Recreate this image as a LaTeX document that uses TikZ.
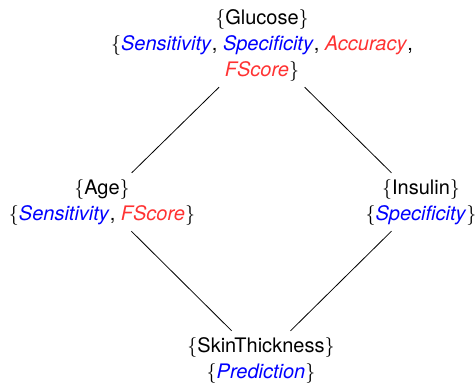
\RequirePackage{fix-cm}
\documentclass[tikz,border=0pt]{standalone}
\usepackage{fontspec}
\setmainfont{TeX Gyre Heros}
\usepackage{xcolor}
\definecolor{metblue}{RGB}{0,0,255}
\definecolor{metred}{RGB}{255,50,50}
\tikzset{
  % attribute sets with the metrics they win
  attr/.style={font=\fontsize{20}{26}\selectfont, align=center, inner sep=6pt},
  % cover relation
  link/.style={draw=black, line width=0.8pt},
}
\newcommand{\mblue}[1]{\textcolor{metblue}{\textit{#1}}}
\newcommand{\mred}[1]{\textcolor{metred}{\textit{#1}}}

\begin{document}
\begin{tikzpicture}[x=1pt,y=1pt]
\useasboundingbox (0,0) rectangle (476,384);

\node[attr] (glu) at (262,339)
  {$\{$Glucose$\}$\\ $\{$\mblue{Sensitivity}, \mblue{Specificity}, \mred{Accuracy},\\ \mred{FScore}$\}$};
\node[attr] (age) at (102,182)
  {$\{$Age$\}$\\ $\{$\mblue{Sensitivity}, \mred{FScore}$\}$};
\node[attr] (ins) at (421,182)
  {$\{$Insulin$\}$\\ $\{$\mblue{Specificity}$\}$};
\node[attr] (skin) at (261,24)
  {$\{$SkinThickness$\}$\\ $\{$\mblue{Prediction}$\}$};

\draw[link] (glu) -- (age);
\draw[link] (glu) -- (ins);
\draw[link] (age) -- (skin);
\draw[link] (ins) -- (skin);

\end{tikzpicture}
\end{document}
